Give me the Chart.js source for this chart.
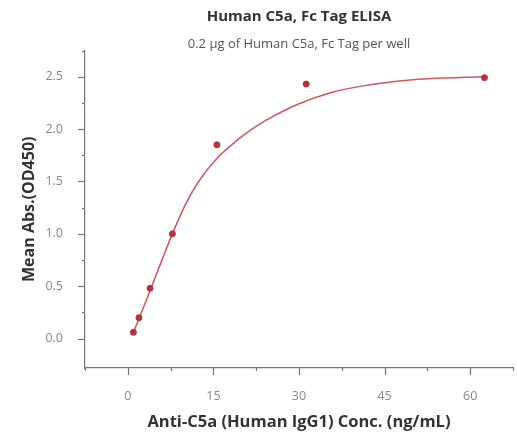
<!DOCTYPE html>
<html>
<head>
<meta charset="utf-8">
<script src="https://cdn.jsdelivr.net/npm/chart.js@4.4.1/dist/chart.umd.min.js"></script>
<style>
  html, body { margin: 0; padding: 0; background: #fff; }
  #wrap { width: 517px; height: 439px; }
</style>
</head>
<body>
<div id="wrap"><canvas id="elisa"></canvas></div>
<script>
// measured points
const conc = [0.977, 1.953, 3.906, 7.8125, 15.625, 31.25, 62.5];
const meanAbs = [0.06, 0.20, 0.48, 1.00, 1.85, 2.43, 2.49];

// fitted curve
const fitX = [0.977, 1.953, 3.906, 7.8125, 10, 12.4, 15.6, 18.2, 21, 24.1, 29.9, 35.7, 40.9, 46.8, 52.6, 62.5];
const fitY = [0.06, 0.19, 0.46, 1.00, 1.27, 1.50, 1.72, 1.85, 1.97, 2.08, 2.24, 2.35, 2.41, 2.455, 2.48, 2.50];

const xMajor = [0, 15, 30, 45, 60];
const yMajor = [0, 0.5, 1.0, 1.5, 2.0, 2.5];

const axisColor = "#777";
const textColor = "#888";
const FONT = "'Open Sans', sans-serif";

// draws major + minor tick marks outside the axes
const tickMarks = {
    id: "tickMarks",
    afterDraw(chart) {
        const ctx = chart.ctx;
        const xs = chart.scales.x, ys = chart.scales.y;
        ctx.save();
        ctx.strokeStyle = axisColor;
        ctx.lineWidth = 1.2;
        xs.ticks.forEach(t => {
            const v = t.value;
            if (Math.abs(v / 7.5 - Math.round(v / 7.5)) > 1e-6) return;
            const major = xMajor.includes(v);
            const px = Math.round(xs.getPixelForValue(v)) + 0.5;
            ctx.beginPath();
            ctx.moveTo(px, xs.top);
            ctx.lineTo(px, xs.top + (major ? 7 : 3));
            ctx.stroke();
        });
        ys.ticks.forEach(t => {
            const v = t.value;
            if (Math.abs(v / 0.25 - Math.round(v / 0.25)) > 1e-6) return;
            const major = yMajor.some(m => Math.abs(m - v) < 1e-6);
            const py = Math.round(ys.getPixelForValue(v)) + 0.5;
            ctx.beginPath();
            ctx.moveTo(ys.right, py);
            ctx.lineTo(ys.right - (major ? 7 : 3), py);
            ctx.stroke();
        });
        ctx.restore();
    }
};

const whiteBg = {
    id: "whiteBg",
    beforeDraw(chart) {
        const ctx = chart.ctx;
        ctx.save();
        ctx.fillStyle = "#fff";
        ctx.fillRect(0, 0, chart.width, chart.height);
        ctx.restore();
    }
};

new Chart(document.getElementById("elisa"), {
    type: "scatter",
    data: {
        datasets: [
            {
                label: "Fit",
                data: fitX.map((x, i) => ({x: x, y: fitY[i]})),
                showLine: true,
                borderColor: "#d4555a",
                borderWidth: 1.5,
                pointRadius: 0,
                cubicInterpolationMode: "monotone",
                order: 2
            },
            {
                label: "Mean Abs.",
                data: conc.map((x, i) => ({x: x, y: meanAbs[i]})),
                backgroundColor: "#b8303a",
                borderColor: "#b8303a",
                pointRadius: 3,
                pointHoverRadius: 3,
                order: 1
            }
        ]
    },
    options: {
        responsive: true,
        maintainAspectRatio: false,
        animation: false,
        layout: {padding: {left: 0, right: 1, top: 0, bottom: 0}},
        plugins: {
            legend: {display: false},
            tooltip: {enabled: false},
            title: {
                display: true,
                text: "Human C5a, Fc Tag ELISA",
                fullSize: false,
                color: "#333",
                font: {family: FONT, size: 15, weight: "bold", lineHeight: 1.2},
                padding: {top: 8, bottom: 2}
            },
            subtitle: {
                display: true,
                text: "0.2 µg of Human C5a, Fc Tag per well",
                fullSize: false,
                color: "#555",
                font: {family: FONT, size: 13, lineHeight: 1.0},
                padding: {top: 9.5, bottom: 0}
            }
        },
        scales: {
            x: {
                type: "linear",
                min: -7.5,
                max: 67.5,
                grid: {display: false},
                border: {display: true, color: axisColor, width: 1.2},
                ticks: {
                    stepSize: 7.5,
                    autoSkip: false,
                    maxRotation: 0,
                    padding: 13,
                    color: textColor,
                    font: {family: FONT, size: 12.5},
                    callback: v => xMajor.includes(v) ? String(v) : ""
                },
                title: {
                    display: true,
                    text: "Anti-C5a (Human IgG1) Conc. (ng/mL)",
                    color: "#333",
                    font: {family: FONT, size: 16.5, weight: "bold", lineHeight: 1.2},
                    padding: {top: 4, bottom: 7}
                },
                afterFit: s => {
                    s.height = 71;
                    s.paddingLeft = 0;
                    s.paddingRight = 0;
                }
            },
            y: {
                type: "linear",
                min: -0.28,
                max: 2.75,
                grid: {display: false},
                border: {display: true, color: axisColor, width: 1.2},
                ticks: {
                    stepSize: 0.25,
                    autoSkip: false,
                    padding: 14,
                    color: textColor,
                    font: {family: FONT, size: 12.5},
                    callback: v => yMajor.some(m => Math.abs(m - v) < 1e-6) ? v.toFixed(1) : ""
                },
                title: {
                    display: true,
                    text: "Mean Abs.(OD450)",
                    color: "#333",
                    font: {family: FONT, size: 16, weight: "bold", lineHeight: 1.2},
                    padding: {top: 20, bottom: 4}
                },
                afterFit: s => {
                    s.width = 85;
                    s.paddingTop = 0;
                    s.paddingBottom = 0;
                }
            }
        }
    },
    plugins: [whiteBg, tickMarks]
});
</script>
</body>
</html>
